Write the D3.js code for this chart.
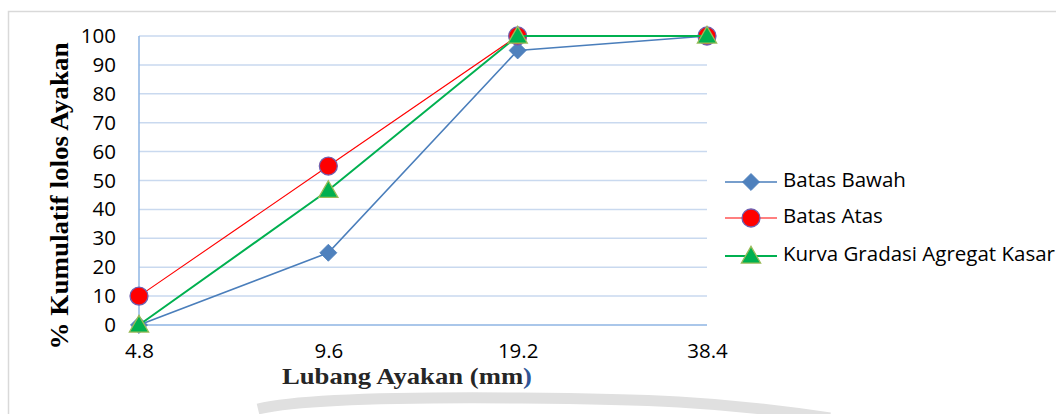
<!DOCTYPE html>
<html>
<head>
<meta charset="utf-8">
<script src="https://cdn.jsdelivr.net/npm/d3@7"></script>
<style>
  html, body { margin: 0; padding: 0; background: #fff; }
  svg { display: block; }
</style>
</head>
<body>
<svg id="chart" width="1056" height="414"></svg>
<script>
// Sieve sizes (mm) and cumulative % passing
const sieveSizes = ["4.8", "9.6", "19.2", "38.4"];
const batasBawah = [0, 25, 95, 100];
const batasAtas = [10, 55, 100, 100];
const kurvaGradasi = [0, 46.6, 100, 100];
const yTicks = [0, 10, 20, 30, 40, 50, 60, 70, 80, 90, 100];

const seriesNames = ["Batas Bawah", "Batas Atas", "Kurva Gradasi Agregat Kasar"];

const svg = d3.select("#chart");

const plot = { left: 139, right: 707, top: 36, bottom: 325 };

const x = d3.scalePoint().domain(sieveSizes).range([plot.left, plot.right]).padding(0);
const y = d3.scaleLinear().domain([0, 100]).range([plot.bottom, plot.top]);

// faint background shape along the bottom edge of the page
svg.append("path")
  .attr("d", "M258,409 C300,399 400,397 520,398 C640,399 720,401 830,418")
  .attr("fill", "none")
  .attr("stroke", "#e0e0e0")
  .attr("stroke-width", 11);

// outer frame
svg.append("path")
  .attr("d", "M8.5,414 L8.5,11.5 L1056,11.5")
  .attr("fill", "none")
  .attr("stroke", "#d9d9d9")
  .attr("stroke-width", 1.5);

// horizontal gridlines
svg.append("g")
  .selectAll("line")
  .data(yTicks.filter(d => d > 0))
  .join("line")
  .attr("x1", plot.left).attr("x2", plot.right)
  .attr("y1", d => y(d)).attr("y2", d => y(d))
  .attr("stroke", "#c9d9ef")
  .attr("stroke-width", 1.5);

// axes lines
svg.append("line")
  .attr("x1", plot.left).attr("x2", plot.right)
  .attr("y1", y(0)).attr("y2", y(0))
  .attr("stroke", "#8eb4e3").attr("stroke-width", 1.5);
svg.append("line")
  .attr("x1", plot.left).attr("x2", plot.left)
  .attr("y1", y(0)).attr("y2", y(100))
  .attr("stroke", "#8eb4e3").attr("stroke-width", 1.5);

const tickFont = "'Open Sans', sans-serif";
const tickSize = 20.5;

// y tick labels
const yAxis = d3.axisLeft(y).tickValues(yTicks).tickSize(0).tickPadding(0);
const gy = svg.append("g").attr("transform", `translate(116,0)`).call(yAxis);
gy.select(".domain").remove();
gy.selectAll("text")
  .attr("font-family", tickFont)
  .attr("font-size", tickSize)
  .attr("fill", "#000");

// x tick labels
const xAxis = d3.axisBottom(x).tickSize(0).tickPadding(0);
const gx = svg.append("g").attr("transform", `translate(0,343)`).call(xAxis);
gx.select(".domain").remove();
gx.selectAll("text")
  .attr("font-family", tickFont)
  .attr("font-size", tickSize)
  .attr("fill", "#000")
  .attr("dy", "0.71em");

// axis titles
svg.append("text")
  .attr("x", 407).attr("y", 384)
  .attr("text-anchor", "middle")
  .attr("font-family", "'Liberation Serif', 'Times New Roman', serif")
  .attr("font-weight", "bold")
  .attr("font-size", 24)
  .attr("fill", "#262626")
  .attr("textLength", 250)
  .attr("lengthAdjust", "spacingAndGlyphs")
  .call(t => {
    t.append("tspan").text("Lubang Ayakan (mm");
    t.append("tspan").attr("fill", "#2f5597").text(")");
  });

svg.append("text")
  .attr("transform", "translate(68,196) rotate(-90)")
  .attr("text-anchor", "middle")
  .attr("font-family", "'Liberation Serif', 'Times New Roman', serif")
  .attr("font-weight", "bold")
  .attr("font-size", 25)
  .attr("fill", "#000")
  .attr("textLength", 307)
  .attr("lengthAdjust", "spacingAndGlyphs")
  .text("% Kumulatif lolos Ayakan");

// series styling
const styles = [
  { values: batasBawah, line: "#4a7ebb", width: 1.6, marker: "diamond", fill: "#4f81bd", stroke: "#4a7ebb" },
  { values: batasAtas, line: "#ff0000", width: 1.1, marker: "circle", fill: "#ff0000", stroke: "#7060b0" },
  { values: kurvaGradasi, line: "#00b050", width: 2, marker: "triangle", fill: "#00b050", stroke: "#9bbb59" }
];

const symbolPath = {
  diamond: d3.symbol().type(d3.symbolDiamond2).size(185),
  circle: d3.symbol().type(d3.symbolCircle).size(254),
  triangle: d3.symbol().type(d3.symbolTriangle).size(160)
};

const lineGen = d3.line().x((d, i) => x(sieveSizes[i])).y(d => y(d));

styles.forEach(s => {
  const g = svg.append("g");
  g.append("path")
    .attr("d", lineGen(s.values))
    .attr("fill", "none")
    .attr("stroke", s.line)
    .attr("stroke-width", s.width);
  g.selectAll("path.m")
    .data(s.values)
    .join("path")
    .attr("class", "m")
    .attr("transform", (d, i) => `translate(${x(sieveSizes[i])},${y(d) + (s.marker === "triangle" ? 1.5 : 0)})`)
    .attr("d", symbolPath[s.marker]())
    .attr("fill", s.fill)
    .attr("stroke", s.stroke)
    .attr("stroke-width", s.marker === "diamond" ? 0.8 : 1.3);
});

// legend
const legend = svg.append("g");
const legendRows = [182, 218, 256];
styles.forEach((s, i) => {
  const row = legend.append("g").attr("transform", `translate(0,${legendRows[i]})`);
  row.append("line")
    .attr("x1", 725).attr("x2", 777)
    .attr("stroke", s.line)
    .attr("stroke-width", s.width);
  row.append("path")
    .attr("transform", `translate(751,${s.marker === "triangle" ? 1.5 : 0})`)
    .attr("d", symbolPath[s.marker]())
    .attr("fill", s.fill)
    .attr("stroke", s.stroke)
    .attr("stroke-width", s.marker === "diamond" ? 0.8 : 1.3);
  row.append("text")
    .attr("x", 783).attr("y", -2)
    .attr("dy", "0.35em")
    .attr("font-family", tickFont)
    .attr("font-size", tickSize)
    .attr("fill", "#000")
    .text(seriesNames[i]);
});
</script>
</body>
</html>
